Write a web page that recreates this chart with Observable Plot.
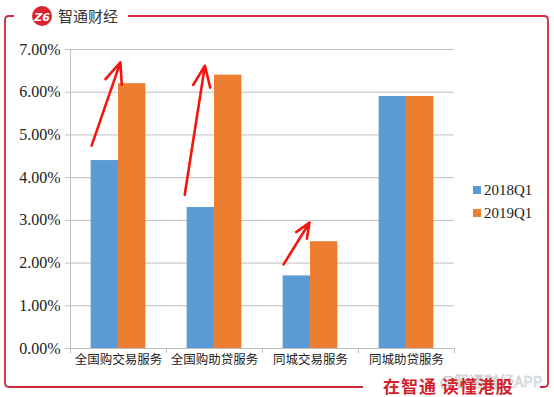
<!DOCTYPE html>
<html><head><meta charset="utf-8">
<script src="https://cdn.jsdelivr.net/npm/d3@7"></script>
<script src="https://cdn.jsdelivr.net/npm/@observablehq/plot@0.6"></script>
<style>
html,body{margin:0;padding:0;background:#fff;}
#chart{width:554px;height:397px;}
</style></head>
<body><div id="chart"></div>
<script>
const categories = ["全国购交易服务", "全国购助贷服务", "同城交易服务", "同城助贷服务"];
const seriesNames = ["2018Q1", "2019Q1"];
const values2018 = [0.044, 0.033, 0.017, 0.059];
const values2019 = [0.062, 0.064, 0.025, 0.059];
const yTicks = [0, 0.01, 0.02, 0.03, 0.04, 0.05, 0.06, 0.07];
// arrows: tail/head positions in category-index units and values
const arrowTailX = [0.22, 1.19, 2.22];
const arrowTailY = [0.0475, 0.036, 0.0197];
const arrowHeadX = [0.52, 1.40, 2.49];
const arrowHeadY = [0.0670, 0.0662, 0.0295];

const colors = ["#5b9bd5", "#ed7d31"];
const groupStart = 0.215, barW = 0.285;

const bars = [];
categories.forEach((c, i) => {
  [values2018, values2019].forEach((arr, s) => {
    bars.push({cat: c, series: seriesNames[s], x1: i + groupStart + s * barW, x2: i + groupStart + (s + 1) * barW, v: arr[i]});
  });
});
const arrows = arrowTailX.map((d, i) => ({x1: d, y1: arrowTailY[i], x2: arrowHeadX[i], y2: arrowHeadY[i]}));
const fmt = d3.format(".2%");

const plot = Plot.plot({
  width: 554, height: 397,
  marginLeft: 70, marginRight: 100, marginTop: 49, marginBottom: 49,
  style: {background: "#fff", overflow: "visible"},
  x: {domain: [0, 4], axis: null},
  y: {domain: [0, 0.07], axis: null},
  color: {domain: seriesNames, range: colors},
  marks: [
    Plot.gridY(yTicks, {stroke: "#bfbfbf", strokeOpacity: 1, strokeWidth: 1}),
    Plot.ruleY(yTicks, {y: d => d, x1: -0.055, x2: 0, stroke: "#bfbfbf"}),
    Plot.text(yTicks, {y: d => d, frameAnchor: "left", dx: -10, textAnchor: "end", text: d => fmt(d), fontFamily: "Liberation Serif, serif", fontVariant: "normal", fontSize: 16, fill: "#222"}),
    Plot.ruleX([0, 1, 2, 3, 4], {x: d => d, y1: 0, y2: -0.0012, stroke: "#bfbfbf"}),
    Plot.text(categories, {x: (d, i) => i + 0.5, frameAnchor: "bottom", dy: 15, text: d => d, fontFamily: "Noto Sans CJK SC", fontSize: 12.5, fill: "#222"}),
    Plot.rectY(bars, {x1: "x1", x2: "x2", y: "v", fill: "series"}),
    Plot.ruleX([0], {stroke: "#bfbfbf"}),
    Plot.ruleY([0], {stroke: "#bfbfbf"}),
    Plot.arrow(arrows, {x1: "x1", y1: "y1", x2: "x2", y2: "y2", stroke: "#f5150f", strokeWidth: 2.6, headLength: 13, headAngle: 45})
  ]
});
document.getElementById("chart").appendChild(plot);

const svg = d3.select(plot);
const g = svg.append("g").attr("text-anchor", "start");
const red = "#cc2a3c";
g.append("path")
  .attr("d", "M14,16 L9,16 Q5,16 5,20 L5,383 Q5,387 9,387 L363,387 M540,387 L544,387 Q548,387 548,383 L548,20 Q548,16 544,16 L128,16")
  .attr("fill", "none").attr("stroke", red).attr("stroke-width", 1.8);
g.append("circle").attr("cx", 42).attr("cy", 16).attr("r", 10).attr("fill", "#d9232d");
g.append("text").attr("x", 42).attr("y", 20.5).attr("text-anchor", "middle")
  .attr("font-family", "DejaVu Sans").attr("font-weight", "bold").attr("font-style", "italic")
  .attr("font-size", 11).attr("fill", "#fff").text("Z6");
g.append("text").attr("x", 58).attr("y", 21.5).attr("font-family", "Noto Sans CJK SC")
  .attr("font-size", 15).attr("fill", "#333").text("智通财经");
g.append("text").attr("x", 440).attr("y", 387).attr("font-family", "Noto Sans CJK SC")
  .attr("font-size", 15).attr("fill", "#f4f4f4").attr("stroke", "#c8c8c8").attr("stroke-width", 0.6).text("@智通财经APP");
g.append("text").attr("x", 383).attr("y", 392.5).attr("font-family", "Noto Sans CJK SC")
  .attr("font-weight", "bold").attr("font-size", 17).attr("letter-spacing", 1).attr("fill", "#d4202d").text("在智通 读懂港股");
// legend
seriesNames.forEach((s, i) => {
  g.append("rect").attr("x", 473).attr("y", 186 + i * 23).attr("width", 8).attr("height", 8).attr("fill", colors[i]);
  g.append("text").attr("x", 484).attr("y", 195 + i * 23).attr("font-family", "Liberation Serif")
    .attr("font-size", 15).attr("fill", "#222").text(s);
});
</script></body></html>
